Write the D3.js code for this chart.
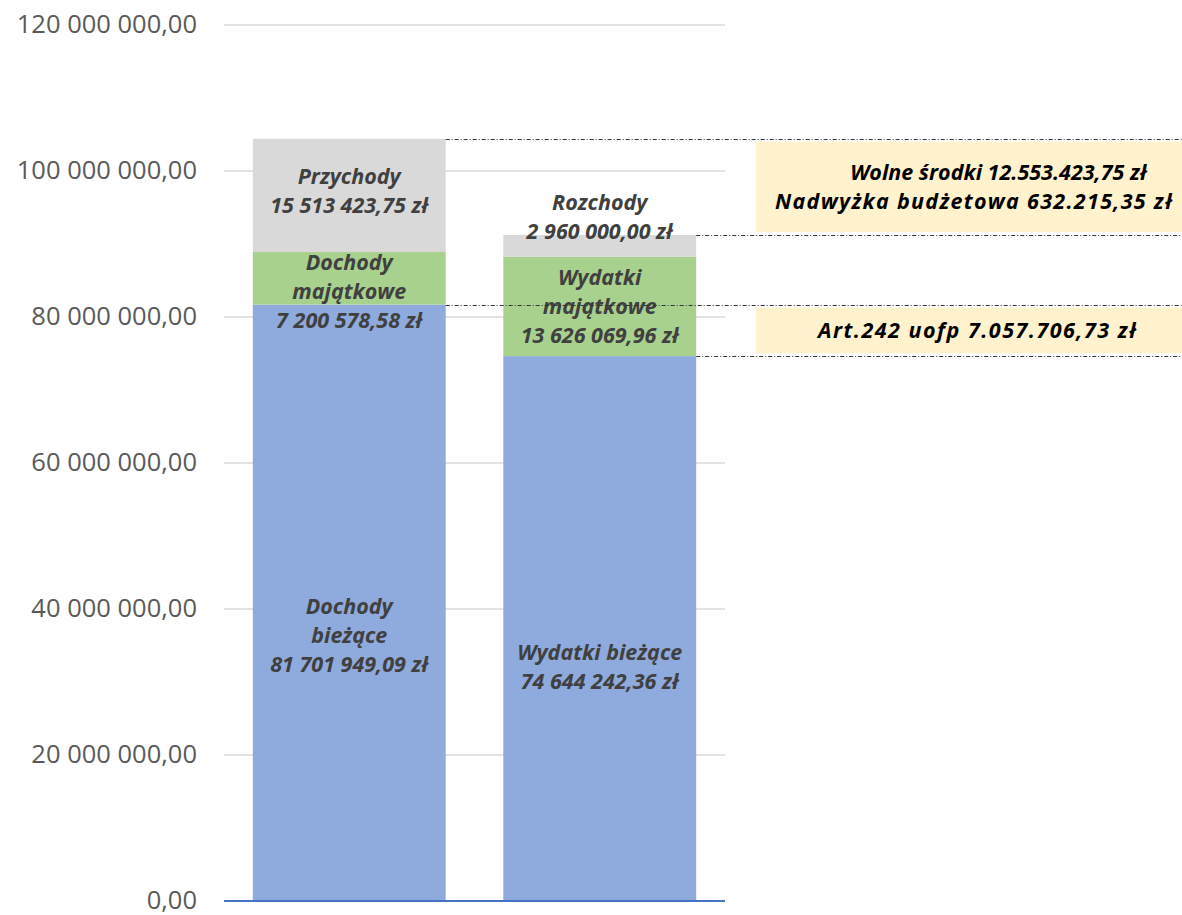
<!DOCTYPE html>
<html><head><meta charset="utf-8">
<script src="https://cdn.jsdelivr.net/npm/d3@7"></script>
<style>html,body{margin:0;padding:0;background:#fff;} svg{display:block;}</style>
</head><body>
<svg id="c" width="1182" height="915"></svg>
<script>
// ---- data ----
const categories = ["Dochody", "Wydatki"];
const segmentNames = ["biezace", "majatkowe", "finansowe"];
const dochodyValues = [81701949.09, 7200578.58, 15513423.75];
const wydatkiValues = [74644242.36, 13626069.96, 2960000.00];
const dochodyLabels = [["Dochody", "bieżące", "81 701 949,09 zł"], ["Dochody", "majątkowe", "7 200 578,58 zł"], ["Przychody", "15 513 423,75 zł"]];
const wydatkiLabels = [["Wydatki bieżące", "74 644 242,36 zł"], ["Wydatki", "majątkowe", "13 626 069,96 zł"], ["Rozchody", "2 960 000,00 zł"]];
const tickValues = [0, 20000000, 40000000, 60000000, 80000000, 100000000, 120000000];
const tickLabels = ["0,00", "20 000 000,00", "40 000 000,00", "60 000 000,00", "80 000 000,00", "100 000 000,00", "120 000 000,00"];
const note1Lines = ["Wolne środki 12.553.423,75 zł", "Nadwyżka budżetowa 632.215,35 zł"];
const note2Lines = ["Art.242 uofp 7.057.706,73 zł"];

// ---- layout ----
const colors = ["#8FAADC", "#A9D18E", "#D9D9D9"];
const labelDy = [[33, 13, -4.5], [38, 0, -29]];
const note1X = [998.5, 973.5], note1W = [null, 397];
const note2X = [977], note2W = [318];
const svg = d3.select("#c");
const y = d3.scaleLinear().domain([0, 120000000]).range([901, 25]);
const x = d3.scaleBand().domain(categories).range([224, 725]).paddingInner(0.23).paddingOuter(0.115);
const font = "'Open Sans', 'DejaVu Sans', sans-serif";

// gridlines
svg.append("g").selectAll("line").data(tickValues.filter(d => d > 0)).join("line")
  .attr("x1", 224).attr("x2", 725).attr("y1", d => y(d)).attr("y2", d => y(d))
  .attr("stroke", "#D9D9D9").attr("stroke-width", 1.5);

// tick labels
svg.append("g").selectAll("text").data(tickValues).join("text")
  .attr("x", 197).attr("y", d => y(d) + 8).attr("text-anchor", "end")
  .attr("font-family", font).attr("font-size", 25.5).attr("fill", "#595959")
  .text((d, i) => tickLabels[i]);

// stacked bars
const series = [dochodyValues, wydatkiValues];
const labels = [dochodyLabels, wydatkiLabels];
series.forEach((vals, ci) => {
  let cum = 0;
  const g = svg.append("g");
  vals.forEach((v, si) => {
    const y0 = cum, y1 = cum + v; cum = y1;
    g.append("rect").attr("x", x(categories[ci])).attr("width", x.bandwidth())
      .attr("y", y(y1)).attr("height", y(y0) - y(y1)).attr("fill", colors[si]);
  });
});

// axis baseline
svg.append("line").attr("x1", 224).attr("x2", 725).attr("y1", y(0)).attr("y2", y(0))
  .attr("stroke", "#4472C4").attr("stroke-width", 1.8);

// labels
series.forEach((vals, ci) => {
  let cum = 0;
  vals.forEach((v, si) => {
    const y0 = cum, y1 = cum + v; cum = y1;
    const lines = labels[ci][si];
    const cy = (y(y0) + y(y1)) / 2 + labelDy[ci][si];
    const lh = 29;
    const t = svg.append("text").attr("text-anchor", "middle")
      .attr("font-family", font).attr("font-size", 21.5).attr("font-weight", "bold")
      .attr("font-style", "italic").attr("fill", "#404040");
    lines.forEach((ln, k) => {
      t.append("tspan").attr("x", x(categories[ci]) + x.bandwidth() / 2)
        .attr("y", cy + (k - (lines.length - 1) / 2) * lh + 7.5).text(ln);
    });
  });
});

// reference dotted lines
const tot1 = d3.sum(dochodyValues), tot2 = d3.sum(wydatkiValues);
const right1 = x(categories[0]) + x.bandwidth(), right2 = x(categories[1]) + x.bandwidth();
const refLines = [[tot1, right1], [tot2, right2], [dochodyValues[0], right1], [wydatkiValues[0], right2]];
svg.append("g").selectAll("line").data(refLines).join("line")
  .attr("x1", d => d[1]).attr("x2", 1182).attr("y1", d => Math.round(y(d[0])) + 0.5).attr("y2", d => Math.round(y(d[0])) + 0.5)
  .attr("stroke", "#333").attr("stroke-width", 1).attr("stroke-dasharray", "4,2,1,2");

// note boxes
function note(top, bottom, lines, xs, ws) {
  const yt = y(top) + 3, yb = y(bottom) - 3;
  svg.append("rect").attr("x", 756).attr("width", 1182 - 756).attr("y", yt).attr("height", yb - yt).attr("fill", "#FFF2CC");
  const cy = (yt + yb) / 2;
  lines.forEach((ln, k) => {
    const t = svg.append("text").attr("text-anchor", "middle")
      .attr("font-family", font).attr("font-size", 21.5).attr("font-weight", "bold")
      .attr("font-style", "italic").attr("fill", "#000")
      .attr("x", xs[k]).attr("y", cy + (k - (lines.length - 1) / 2) * 29 + 8).text(ln);
    if (ws[k]) t.attr("textLength", ws[k]).attr("lengthAdjust", "spacing");
  });
}
note(tot1, tot2, note1Lines, note1X, note1W);
note(dochodyValues[0], wydatkiValues[0], note2Lines, note2X, note2W);
</script>
</body></html>
